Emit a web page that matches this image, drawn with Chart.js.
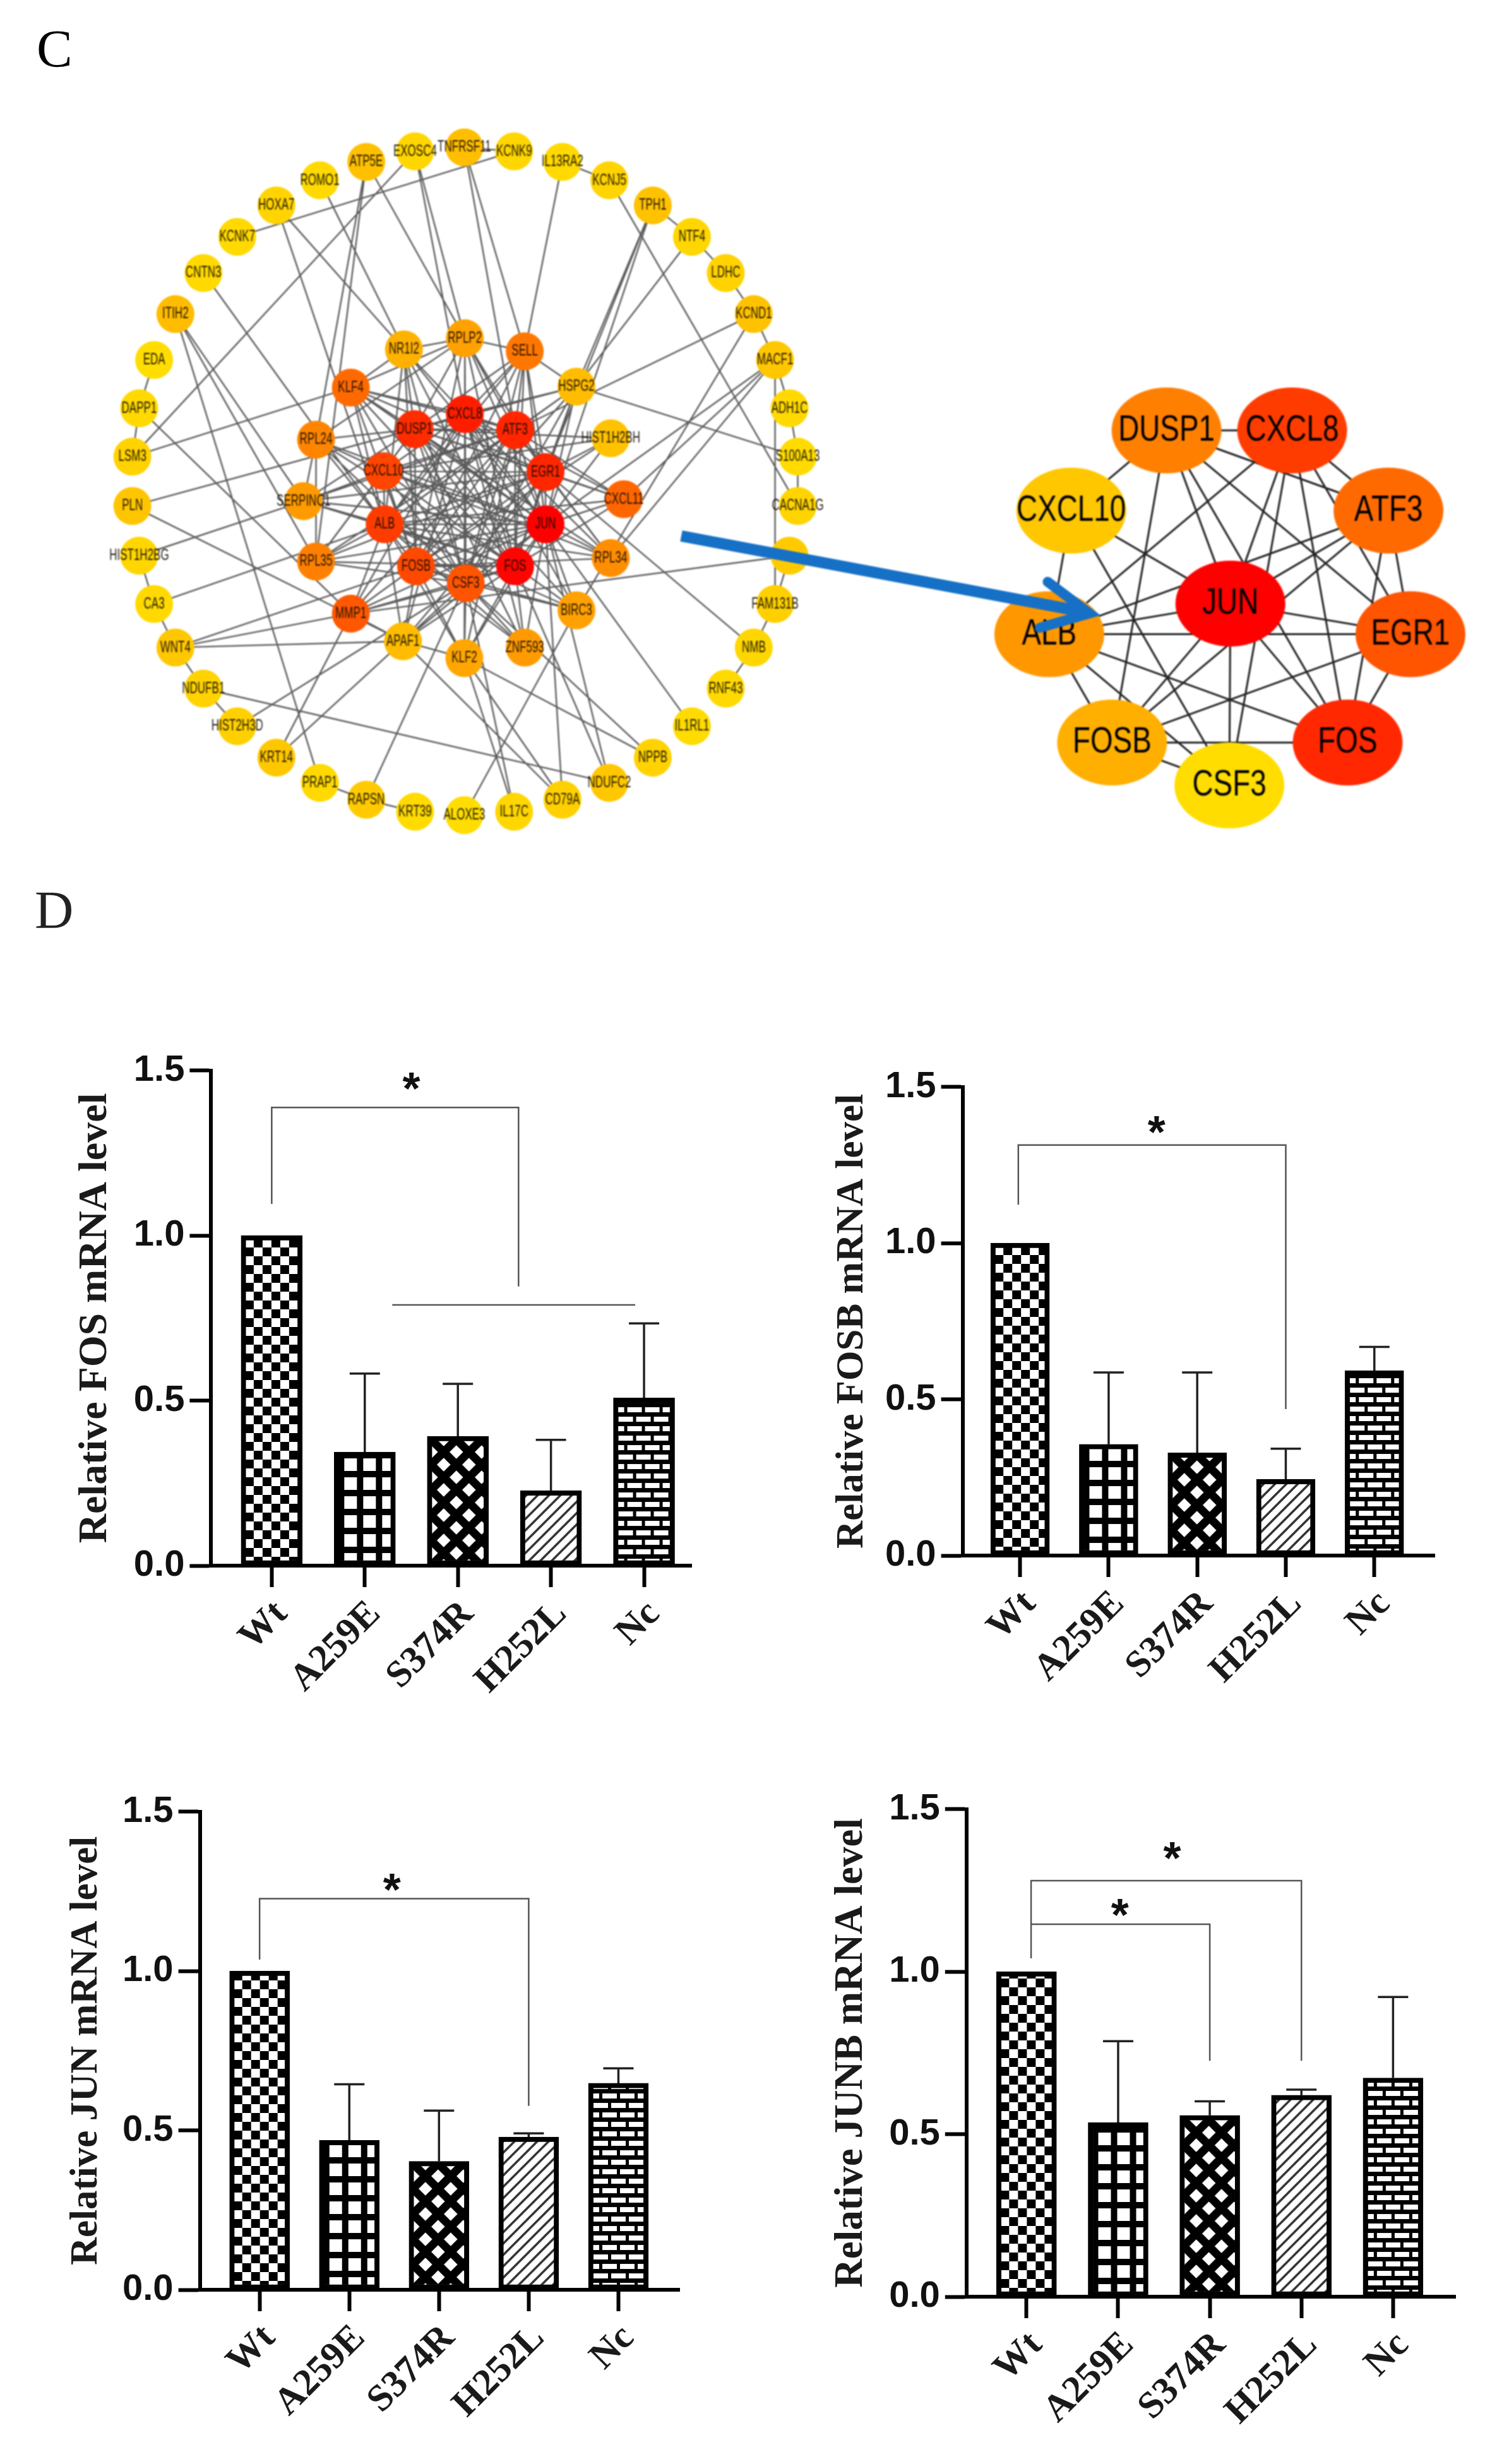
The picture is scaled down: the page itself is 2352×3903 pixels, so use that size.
<!DOCTYPE html>
<html>
<head>
<meta charset="utf-8">
<title>Hub genes and mRNA levels</title>
<script src="https://cdn.jsdelivr.net/npm/chart.js@4"></script>
<style>
    html, body { margin: 0; padding: 0; background: #fff; }
    body { position: relative; width: 2352px; height: 3903px; overflow: hidden; }
    canvas { position: absolute; }
    .panel { position: absolute; font: 85px/85px "Liberation Serif", serif; }
    #netLeft, #netRight { filter: blur(0.9px); }
</style>
</head>
<body>
<div class="panel" style="left:58px;top:35px;color:#000">C</div>
<div class="panel" style="left:55px;top:1399px;color:#222">D</div>
<canvas id="netLeft"></canvas>
<canvas id="netRight"></canvas>
<canvas id="fosChart"></canvas>
<canvas id="fosbChart"></canvas>
<canvas id="junChart"></canvas>
<canvas id="junbChart"></canvas>
<script>
const categories = ['Wt', 'A259E', 'S374R', 'H252L', 'Nc'];
const yTicks = [0, 0.5, 1, 1.5];

// bar heights and top of each error bar
const fosValues = [1.0, 0.344, 0.392, 0.227, 0.508];
const fosErrTop = [null, 0.582, 0.551, 0.381, 0.734];
const fosbValues = [1.0, 0.356, 0.329, 0.244, 0.592];
const fosbErrTop = [null, 0.586, 0.586, 0.342, 0.668];
const junValues = [1.0, 0.469, 0.403, 0.479, 0.648];
const junErrTop = [null, 0.645, 0.562, 0.491, 0.695];
const junbValues = [1.0, 0.536, 0.558, 0.620, 0.673];
const junbErrTop = [null, 0.786, 0.601, 0.637, 0.922];

// significance brackets as [category, value] corners
const fosBrackets = [[[0, 1.096], [0, 1.388], [2.652, 1.388], [2.652, 0.846]], [[1.295, 0.79], [3.905, 0.79]]];
const fosbBrackets = [[[-0.02, 1.123], [-0.02, 1.314], [3, 1.314], [3, 0.469]]];
const junBrackets = [[[0, 1.036], [0, 1.227], [3, 1.227], [3, 0.577]]];
const junbBrackets = [[[0.05, 1.041], [0.05, 1.28], [3, 1.28], [3, 0.726]], [[0.05, 1.146], [2, 1.146], [2, 0.726]]];
const fosStars = [[1.5, 1.46]];
const fosbStars = [[1.54, 1.37]];
const junStars = [[1.475, 1.27]];
const junbStars = [[1.59, 1.364], [1.02, 1.188]];

// left network, node centres (units: 1568 across the panel)
const leftNames = ['TNFRSF11', 'KCNK9', 'IL13RA2', 'KCNJ5', 'TPH1', 'NTF4', 'LDHC', 'KCND1', 'MACF1', 'ADH1C', 'S100A13', 'CACNA1G', '?', 'FAM131B', 'NMB', 'RNF43', 'IL1RL1', 'NPPB', 'NDUFC2', 'CD79A', 'IL17C', 'ALOXE3', 'KRT39', 'RAPSN', 'PRAP1', 'KRT14', 'HIST2H3D', 'NDUFB1', 'WNT4', 'CA3', 'HIST1H2BG', 'PLN', 'LSM3', 'DAPP1', 'EDA', 'ITIH2', 'CNTN3', 'KCNK7', 'HOXA7', 'ROMO1', 'ATP5E', 'EXOSC4',
    'RPLP2', 'SELL', 'HSPG2', 'HIST1H2BH', 'CXCL11', 'RPL34', 'BIRC3', 'ZNF593', 'KLF2', 'APAF1', 'MMP1', 'RPL35', 'SERPINC1', 'RPL24', 'KLF4', 'NR1I2',
    'CXCL8', 'ATF3', 'EGR1', 'JUN', 'FOS', 'CSF3', 'FOSB', 'ALB', 'CXCL10', 'DUSP1'];
const leftX = [765, 868, 968, 1065, 1155, 1236, 1306, 1364, 1408, 1438, 1455, 1455, 1438, 1408, 1364, 1306, 1236, 1155, 1065, 968, 868, 765, 663, 562, 466, 376, 295, 225, 167, 123, 92, 78, 78, 92, 123, 167, 225, 295, 376, 466, 562, 663,
    766, 890, 997, 1068, 1095, 1068, 997, 890, 765, 638, 530, 458, 432, 458, 530, 640,
    766, 870, 933, 933, 870, 768, 665, 600, 598, 662];
const leftY = [70, 78, 100, 138, 190, 255, 330, 415, 510, 610, 710, 812, 915, 1015, 1105, 1190, 1268, 1333, 1385, 1420, 1445, 1452, 1445, 1420, 1385, 1333, 1268, 1190, 1105, 1015, 915, 812, 710, 610, 510, 415, 330, 255, 190, 138, 100, 78,
    465, 492, 565, 672, 798, 920, 1028, 1105, 1127, 1092, 1035, 927, 802, 675, 567, 488,
    622, 655, 742, 850, 937, 972, 937, 850, 740, 653];
const leftScore = [0.14, 0.03, 0.02, 0.04, 0.12, 0.03, 0.05, 0.12, 0.1, 0.02, 0.01, 0.04, 0.08, 0.06, 0.03, 0.02, 0.01, 0.05, 0.1, 0.06, 0.03, 0.0, 0.01, 0.08, 0.02, 0.1, 0.06, 0.05, 0.1, 0.02, 0.03, 0.11, 0.05, 0.02, 0.0, 0.15, 0.02, 0.02, 0.04, 0.02, 0.13, 0.03,
    0.27, 0.46, 0.15, 0.12, 0.54, 0.36, 0.27, 0.3, 0.25, 0.15, 0.6, 0.42, 0.3, 0.4, 0.52, 0.2,
    0.87, 0.83, 0.83, 1.0, 0.98, 0.62, 0.67, 0.73, 0.69, 0.8];

// first name in each row links to every other name in that row
const hubEdges = [
    'DUSP1 CXCL8 CXCL10 ATF3 JUN EGR1 FOS FOSB',
    'CXCL8 ALB ATF3 JUN EGR1 FOS CSF3',
    'ATF3 JUN FOSB ALB EGR1 FOS',
    'EGR1 JUN ALB FOS FOSB',
    'ALB JUN FOS FOSB CSF3 CXCL10',
    'FOSB JUN FOS CSF3',
    'CSF3 JUN CXCL10',
    'JUN FOS CXCL10'
];
const leftEdges = [
    'EXOSC4 LSM3 RPLP2 CXCL8', 'KCNK9 KCNK7', 'IL13RA2 SELL KCNJ5', 'KCNJ5 CACNA1G', 'TPH1 HSPG2 EGR1 JUN NTF4', 'NTF4 HSPG2 LDHC', 'LDHC KCND1',
    'KCND1 ATF3 BIRC3 MACF1', 'MACF1 JUN CXCL11 RPL34 FAM131B ADH1C', 'ADH1C S100A13', 'S100A13 HSPG2 CACNA1G', '? MMP1 FAM131B', 'FAM131B NMB',
    'NMB EGR1 RNF43', 'IL1RL1 JUN', 'NPPB CSF3 KLF2', 'NDUFC2 NDUFB1 FOS JUN', 'CD79A APAF1 KLF2 JUN', 'IL17C KLF2 CSF3', 'ALOXE3 BIRC3',
    'RAPSN CSF3 PRAP1 KRT39', 'KRT14 APAF1 MMP1', 'HIST2H3D CSF3 NDUFB1', 'PRAP1 ITIH2', 'WNT4 MMP1 FOSB APAF1 CA3 NDUFB1', 'CA3 ALB HIST1H2BG',
    'HIST1H2BG SERPINC1', 'PLN APAF1 DUSP1', 'LSM3 KLF4 DAPP1', 'DAPP1 MMP1 EDA', 'ITIH2 SERPINC1 RPL35', 'CNTN3 ALB', 'HOXA7 NR1I2 ALB',
    'ROMO1 NR1I2', 'ATP5E RPL24 RPL35 RPLP2', 'TNFRSF11 SELL ATF3 KCNK9',
    'SELL CXCL8 ATF3 DUSP1 EGR1 JUN FOS RPLP2 HSPG2', 'RPLP2 CXCL8 DUSP1 JUN FOS ATF3 NR1I2 KLF4 RPL24', 'NR1I2 DUSP1 CXCL8 JUN ALB FOS KLF4',
    'KLF4 DUSP1 CXCL8 ALB JUN FOSB ATF3', 'RPL24 ALB FOS JUN CXCL10 DUSP1 CSF3 RPL35 SERPINC1', 'SERPINC1 ALB JUN CXCL10 FOS DUSP1',
    'RPL35 ALB JUN FOS CXCL10 CSF3 DUSP1', 'MMP1 ALB FOSB JUN FOS CXCL8 EGR1 CSF3 ATF3 APAF1', 'APAF1 CSF3 FOS FOSB JUN ALB KLF2',
    'KLF2 FOS CSF3 JUN ALB FOSB', 'ZNF593 FOSB CSF3 FOS JUN ALB', 'BIRC3 FOS JUN ALB CSF3 FOSB', 'RPL34 ALB FOSB JUN CXCL8 EGR1 DUSP1',
    'CXCL11 JUN ALB EGR1 FOS CXCL8 DUSP1 ATF3', 'HIST1H2BH JUN EGR1 DUSP1 CXCL10 FOSB', 'HSPG2 ATF3 CXCL8 EGR1 JUN DUSP1 ALB FOS',
    'CXCL8 CXCL10', 'ATF3 CXCL10', 'EGR1 CXCL10', 'FOS CXCL10', 'CSF3 EGR1 ATF3 DUSP1 FOS', 'FOSB CXCL10',
    'KLF2 CXCL8 ATF3', 'ZNF593 CXCL8 DUSP1', 'BIRC3 CXCL8 DUSP1', 'RPL34 CXCL10 ATF3', 'RPL35 EGR1 ATF3', 'SERPINC1 EGR1 ATF3',
    'NR1I2 FOSB CSF3', 'RPLP2 FOSB EGR1 CSF3', 'SELL ALB FOSB CSF3', 'HSPG2 FOSB CSF3', 'APAF1 CXCL8 EGR1', 'KLF4 FOS CSF3 EGR1'
];

// right network, the ten hub genes
const rightNames = ['DUSP1', 'CXCL8', 'ATF3', 'CXCL10', 'JUN', 'EGR1', 'ALB', 'FOSB', 'FOS', 'CSF3'];
const rightX = [962, 1202, 1386, 780, 1084, 1428, 738, 858, 1308, 1082];
const rightY = [210, 210, 472, 472, 776, 876, 876, 1230, 1230, 1370];
const rightScore = [0.42, 0.73, 0.52, 0.10, 1.0, 0.62, 0.31, 0.21, 0.82, 0.0];
const arrowShaft = [[35, 555], [810, 805]];
const arrowHead = [[735, 705], [815, 808], [720, 855]];

const heat = s => `hsl(${52 * (1 - s)},100%,50%)`;

function tile(size, draw, h) {
    const c = document.createElement('canvas');
    c.width = size;
    c.height = h || size;
    const g = c.getContext('2d');
    g.fillStyle = '#fff';
    g.fillRect(0, 0, c.width, c.height);
    g.fillStyle = '#000';
    g.strokeStyle = '#000';
    draw(g);
    return c;
}

// one fill per category, same order as the categories array
const hatches = [
    tile(28, g => { g.fillRect(0, 0, 14, 14); g.fillRect(14, 14, 14, 14); }),
    tile(30, g => { g.fillRect(0, 0, 10, 30); g.fillRect(0, 0, 30, 10); }),
    tile(40, g => {
        g.lineWidth = 13;
        [[-10, 50, 50, -10], [-10, -10, 50, 50], [-30, 30, 30, -30], [10, 70, 70, 10], [-30, 10, 30, 70], [10, -30, 70, 30]].forEach(l => {
            g.beginPath(); g.moveTo(l[0], l[1]); g.lineTo(l[2], l[3]); g.stroke();
        });
    }),
    tile(18, g => {
        g.strokeStyle = '#333';
        g.lineWidth = 3.5;
        [[-9, 27, 27, -9], [-9, 9, 9, -9], [9, 27, 27, 9]].forEach(l => {
            g.beginPath(); g.moveTo(l[0], l[1]); g.lineTo(l[2], l[3]); g.stroke();
        });
    }),
    tile(28, g => {
        g.fillRect(0, 0, 28, 30);
        g.fillStyle = '#fff';
        g.fillRect(2, 4, 23, 8);
        g.fillRect(16, 19, 12, 8);
        g.fillRect(0, 19, 11, 8);
    }, 30)
];

function placeCanvas(id, left, top, width, height) {
    const c = document.getElementById(id);
    c.width = width;
    c.height = height;
    c.style.left = left + 'px';
    c.style.top = top + 'px';
    return c;
}

function errorPoints(values, tops, cap) {
    const pts = [];
    tops.forEach((t, i) => {
        if (t === null) return;
        pts.push({ x: i, y: values[i] }, { x: i, y: t }, { x: i - cap, y: t }, { x: i + cap, y: t }, { x: i, y: null });
    });
    return pts;
}

function barChart(id, p) {
    const yAxisW = p.titleDist + p.titleSize * 0.6;
    const padTop = 40;
    const xAxisH = 300;
    const spacing = p.spacing;
    const canvas = placeCanvas(id, p.axisX - yAxisW, p.y15 - padTop, Math.round(p.xEnd - p.axisX + yAxisW), Math.round(p.y0 - p.y15 + padTop + xAxisH));

    const datasets = [{
        type: 'bar',
        data: p.values.map((v, i) => ({ x: i, y: v })),
        barThickness: p.barW,
        borderColor: '#000',
        borderWidth: 8,
        borderSkipped: false,
        order: 2,
        backgroundColor: ctx => {
            const chart = ctx.chart;
            if (!chart.chartArea || ctx.dataIndex === undefined) return '#fff';
            const pat = chart.ctx.createPattern(hatches[ctx.dataIndex], 'repeat');
            const left = chart.scales.x.getPixelForValue(ctx.dataIndex) - p.barW / 2;
            pat.setTransform(new DOMMatrix().translate(left + 6, chart.scales.y.getPixelForValue(0)));
            return pat;
        }
    }, {
        type: 'line',
        data: errorPoints(p.values, p.errTop, 24 / spacing),
        borderColor: '#222',
        borderWidth: 3.5,
        pointRadius: 0,
        order: 3
    }];
    p.brackets.forEach(b => {
        datasets.push({
            type: 'line',
            data: b.map(c => ({ x: c[0], y: c[1] })),
            borderColor: '#555',
            borderWidth: 2.5,
            pointRadius: 0,
            order: 1
        });
    });

    new Chart(canvas.getContext('2d'), {
        data: { datasets },
        options: {
            responsive: false,
            animation: false,
            devicePixelRatio: 1,
            events: [],
            layout: { autoPadding: false, padding: { top: padTop } },
            plugins: { legend: { display: false }, tooltip: { enabled: false } },
            scales: {
                x: {
                    type: 'linear',
                    offset: false,
                    min: (p.axisX - p.cat0) / spacing,
                    max: (p.xEnd - p.cat0) / spacing,
                    afterBuildTicks: s => { s.ticks = categories.map((_, i) => ({ value: i })); },
                    afterFit: s => { s.height = xAxisH; },
                    border: { display: true, width: 6, color: '#000' },
                    grid: { offset: false, drawOnChartArea: false, tickLength: 34, tickWidth: 6, tickColor: '#000' },
                    ticks: {
                        autoSkip: false,
                        minRotation: 45,
                        maxRotation: 45,
                        padding: 8,
                        labelOffset: 16,
                        color: '#1a1a1a',
                        font: { family: '"Liberation Serif"', weight: 'bold', size: 60 },
                        callback: v => categories[v]
                    }
                },
                y: {
                    min: 0,
                    max: 1.5,
                    afterBuildTicks: s => { s.ticks = yTicks.map(v => ({ value: v })); },
                    afterFit: s => { s.width = yAxisW; },
                    border: { display: true, width: 6, color: '#000' },
                    grid: { drawOnChartArea: false, tickLength: 34, tickWidth: 6, tickColor: '#000' },
                    title: {
                        display: true,
                        text: p.title,
                        color: '#1a1a1a',
                        padding: 0,
                        font: { family: '"Liberation Serif"', weight: 'bold', size: p.titleSize, lineHeight: 1.2 }
                    },
                    ticks: {
                        padding: 8,
                        color: '#111',
                        font: { family: '"Liberation Sans"', weight: 'bold', size: 58 },
                        callback: v => v.toFixed(1)
                    }
                }
            }
        },
        plugins: [{
            id: 'stars',
            afterDatasetsDraw(chart) {
                const g = chart.ctx;
                g.save();
                g.fillStyle = '#111';
                g.font = 'bold 72px "Liberation Sans"';
                g.textAlign = 'center';
                g.textBaseline = 'middle';
                p.stars.forEach(s => {
                    g.fillText('*', chart.scales.x.getPixelForValue(s[0]), chart.scales.y.getPixelForValue(s[1]) + 12);
                });
                g.restore();
            }
        }]
    });
}

barChart('fosChart', { title: 'Relative FOS mRNA level', titleSize: 64, titleDist: 183, values: fosValues, errTop: fosErrTop, brackets: fosBrackets, stars: fosStars, axisX: 334, xEnd: 1096, y15: 1693, y0: 2480, cat0: 430, spacing: 147.5, barW: 97 });
barChart('fosbChart', { title: 'Relative FOSB mRNA level', titleSize: 61, titleDist: 174, values: fosbValues, errTop: fosbErrTop, brackets: fosbBrackets, stars: fosbStars, axisX: 1525, xEnd: 2273, y15: 1719, y0: 2464, cat0: 1616, spacing: 140.2, barW: 93 });
barChart('junChart', { title: 'Relative JUN mRNA level', titleSize: 61, titleDist: 179, values: junValues, errTop: junErrTop, brackets: junBrackets, stars: junStars, axisX: 317, xEnd: 1077, y15: 2867, y0: 3627, cat0: 411.5, spacing: 142, barW: 95 });
barChart('junbChart', { title: 'Relative JUNB mRNA level', titleSize: 63, titleDist: 182, values: junbValues, errTop: junbErrTop, brackets: junbBrackets, stars: junbStars, axisX: 1531, xEnd: 2306, y15: 2863, y0: 3638, cat0: 1626, spacing: 145.1, barW: 95 });

function edgePoints(rows, names, xs, ys) {
    const pts = [];
    rows.forEach(row => {
        const parts = row.split(' ');
        const a = names.indexOf(parts[0]);
        parts.slice(1).forEach(n => {
            const b = names.indexOf(n);
            pts.push({ x: xs[a], y: ys[a] }, { x: xs[b], y: ys[b] }, { x: xs[b], y: null });
        });
    });
    return pts;
}

function networkChart(canvas, cfg) {
    const nodeIdx = 0;
    const datasets = [{
        type: 'scatter',
        data: cfg.xs.map((x, i) => ({ x, y: cfg.ys[i] })),
        pointStyle: cfg.pointStyle,
        pointRadius: cfg.radius,
        pointBackgroundColor: cfg.scores.map(heat),
        pointBorderWidth: 0,
        order: 5
    }, {
        type: 'line',
        data: edgePoints(cfg.edges, cfg.names, cfg.xs, cfg.ys),
        borderColor: cfg.edgeColor,
        borderWidth: cfg.edgeWidth,
        pointRadius: 0,
        order: 6
    }].concat(cfg.extra || []);
    new Chart(canvas.getContext('2d'), {
        data: { datasets },
        options: {
            responsive: false,
            animation: false,
            devicePixelRatio: 1,
            events: [],
            layout: { autoPadding: false },
            plugins: { legend: { display: false }, tooltip: { enabled: false } },
            scales: {
                x: { type: 'linear', display: false, min: 0, max: 1568 },
                y: { type: 'linear', display: false, min: 0, max: 1568, reverse: true }
            }
        },
        plugins: [{
            id: 'nodeLabels',
            afterDatasetDraw(chart, args) {
                if (args.index !== nodeIdx) return;
                const g = chart.ctx;
                g.save();
                g.fillStyle = cfg.labelColor;
                g.font = cfg.labelFont;
                g.textAlign = 'center';
                g.textBaseline = 'middle';
                chart.getDatasetMeta(nodeIdx).data.forEach((pt, i) => {
                    if (cfg.names[i] === '?') return;
                    g.save();
                    g.translate(pt.x, pt.y);
                    g.scale(cfg.labelSquash, 1);
                    g.fillText(cfg.names[i], 0, 0);
                    g.restore();
                });
                g.restore();
            }
        }]
    });
}

const leftCanvas = placeCanvas('netLeft', 150, 180, 1200, 1200);
networkChart(leftCanvas, {
    names: leftNames, xs: leftX, ys: leftY, scores: leftScore,
    edges: hubEdges.concat(leftEdges),
    edgeColor: 'rgba(45,45,45,0.78)', edgeWidth: 2.4,
    pointStyle: 'circle', radius: 30,
    labelColor: 'rgba(15,10,0,0.92)', labelFont: '25px "Liberation Sans"', labelSquash: 0.68
});

function ellipseMark(score) {
    const c = document.createElement('canvas');
    c.width = 176;
    c.height = 138;
    const g = c.getContext('2d');
    g.fillStyle = heat(score);
    g.beginPath();
    g.ellipse(88, 69, 87, 68, 0, 0, Math.PI * 2);
    g.fill();
    return c;
}

const rightCanvas = placeCanvas('netRight', 1050, 580, 1300, 760);
networkChart(rightCanvas, {
    names: rightNames, xs: rightX, ys: rightY, scores: rightScore,
    edges: hubEdges,
    edgeColor: '#222', edgeWidth: 3,
    pointStyle: rightScore.map(ellipseMark), radius: 10,
    labelColor: '#000', labelFont: '58px "Liberation Sans"', labelSquash: 0.79,
    extra: [{
        type: 'line',
        data: arrowShaft.map(c => ({ x: c[0], y: c[1] })),
        borderColor: '#1670c6', borderWidth: 18, pointRadius: 0, order: 1
    }, {
        type: 'line',
        data: arrowHead.map(c => ({ x: c[0], y: c[1] })),
        borderColor: '#1670c6', borderWidth: 16, borderCapStyle: 'round', borderJoinStyle: 'miter', pointRadius: 0, order: 0
    }]
});
</script>
</body>
</html>
